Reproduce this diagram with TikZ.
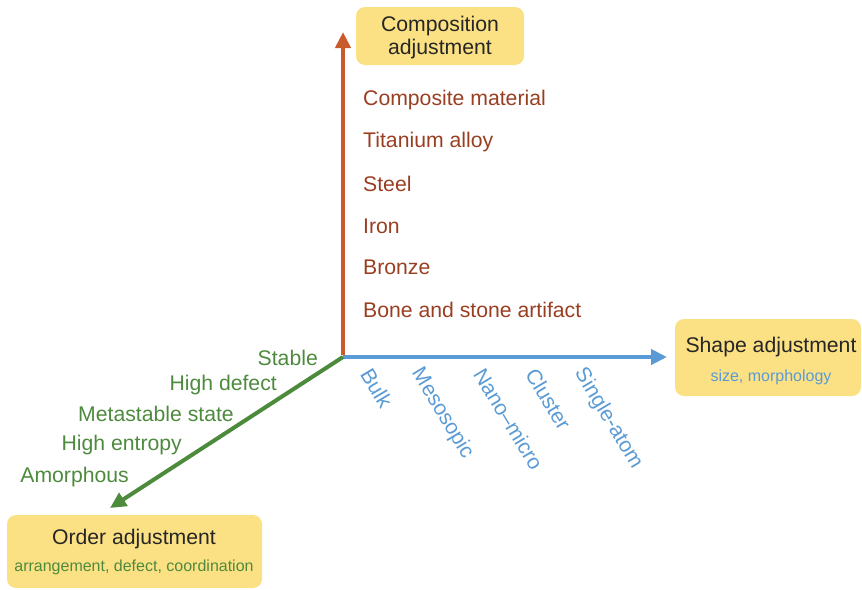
\documentclass[tikz,border=0pt]{standalone}
\usepackage{fontspec}
\setmainfont{Liberation Sans}
\usetikzlibrary{arrows.meta}
\definecolor{boxyellow}{HTML}{FBE183}
\definecolor{orangeax}{HTML}{C95A2B}
\definecolor{browntxt}{HTML}{9A3E22}
\definecolor{blueax}{HTML}{5B9BD5}
\definecolor{greenax}{HTML}{4C8A3C}
\definecolor{greentxt}{HTML}{4E8A3E}
\tikzset{
  axis/.style={line width=4pt,-{Triangle[length=16pt,width=15pt]}},
  ybox/.style={fill=boxyellow,rounded corners=9pt,draw=none},
  bigtxt/.style={font=\fontsize{21.2}{24}\selectfont,inner sep=0pt},
  smalltxt/.style={font=\fontsize{16}{18}\selectfont,inner sep=0pt},
  comp/.style={bigtxt,text=browntxt,anchor=west},
  ord/.style={bigtxt,text=greentxt,anchor=east},
  shp/.style={bigtxt,text=blueax,anchor=west,rotate=-59},
}
\begin{document}
\begin{tikzpicture}[x=1pt,y=-1pt]
\useasboundingbox (0,0) rectangle (862,589);
% boxes
\fill[ybox] (356,7) rectangle (524,65);
\fill[ybox] (675,319) rectangle (861,396);
\fill[ybox] (7,515) rectangle (262,588);
\node[bigtxt,align=center,text=black!85] (compbox) at (440,37.5) {Composition\\[-1pt]adjustment};
\node[bigtxt,text=black!85] (shapetitle) at (771,347) {Shape adjustment};
\node[smalltxt,text=blueax] (shapesub) at (771,377) {size, morphology};
\node[bigtxt,text=black!85] (ordertitle) at (134,539) {Order adjustment};
\node[smalltxt,text=greentxt] (ordersub) at (134,567.5) {arrangement, defect, coordination};
% axes
\coordinate (o) at (343,357);
\coordinate (ctip) at (343,32);
\coordinate (stip) at (667,357);
\coordinate (otip) at (110,508);
\draw[axis,blueax] (o) -- (stip);
\draw[axis,greenax] (o) -- (otip);
\draw[axis,orangeax] ([yshift=2pt]o) -- (ctip);
% composition labels
\node[comp] (c1) at (363,100.5) {Composite material};
\node[comp] (c2) at (363,142.5) {Titanium alloy};
\node[comp] (c3) at (363,184) {Steel};
\node[comp] (c4) at (363,226) {Iron};
\node[comp] (c5) at (363,267.5) {Bronze};
\node[comp] (c6) at (363,309.5) {Bone and stone artifact};
% order labels
\node[ord] (o1) at (318,358) {Stable};
\node[ord] (o2) at (277,385) {High defect};
\node[ord] (o3) at (234,414) {Metastable state};
\node[ord] (o4) at (182,445.5) {High entropy};
\node[ord] (o5) at (129,477) {Amorphous};
% shape labels
\node[shp] (s1) at (366,370) {Bulk};
\node[shp] (s2) at (416,370) {Mesosopic};
\node[shp] (s3) at (479,370) {Nano--micro};
\node[shp] (s4) at (531,370) {Cluster};
\node[shp] (s5) at (579,370) {Single-atom};
\end{tikzpicture}
\end{document}
